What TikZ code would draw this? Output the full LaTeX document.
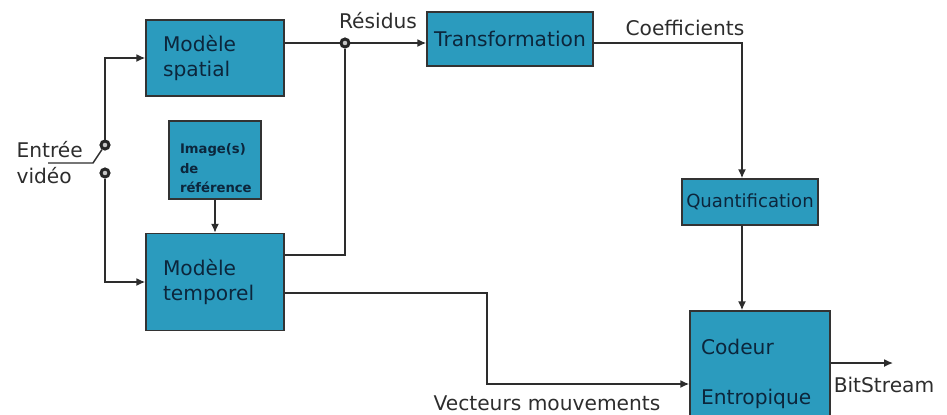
\documentclass[tikz,border=0pt]{standalone}
\usepackage{fontspec}
\setmainfont{DejaVu Sans}
\usetikzlibrary{positioning, arrows.meta}
\definecolor{bleubloc}{RGB}{43,155,190}
\definecolor{encre}{RGB}{12,38,60}
\definecolor{trait}{RGB}{45,45,45}
\newcommand{\unite}{0.02cm}

\begin{document}
\begin{tikzpicture}[
        x = \unite,
        y = -\unite,
        line width = 0.8pt,
        every node/.style = {font = \fontsize{11.5}{14.2}\selectfont, text = trait},
        bloc/.style = {rectangle, draw = black!80, fill = bleubloc, text = encre, line width = 0.9pt},
        modele/.style = {bloc, minimum width = 2.76cm, text width = 2.08cm, inner xsep = 0.34cm, align = left},
        borne/.style = {circle, draw = black!85, line width = 1.7pt, fill = gray!45, inner sep = 0pt, minimum size = 0.16cm},
        fleche/.style = {draw = trait, -{Latex[length = 5pt, width = 4.5pt]}},
        fil/.style = {draw = trait}
      ]
      \useasboundingbox (0,0) rectangle (947,414);

      \node[modele, minimum height = 1.52cm] (spatial) at (215,58) {Modèle\\spatial};
      \node[modele, minimum height = 1.94cm] (temporel) at (215,282) {Modèle\\temporel};
      \node[bloc, minimum width = 1.84cm, minimum height = 1.36cm, text width = 1.4cm, inner xsep = 0.22cm,
            text height = 15pt, align = left, font = \bfseries\fontsize{7.5}{11.2}\selectfont] (reference) at (215,160) {Image(s)\\de\\référence};
      \node[bloc, minimum width = 3.32cm, minimum height = 1.08cm, inner xsep = 0pt] (transfo) at (510,39) {Transformation};
      \node[bloc, minimum width = 2.72cm, minimum height = 0.92cm, inner xsep = 0pt,
            font = \fontsize{10.3}{12}\selectfont] (quantif) at (750,202) {Quantification};
      \node[bloc, minimum width = 2.8cm, minimum height = 2.52cm, text width = 2.36cm, align = left,
            font = \fontsize{11.5}{28}\selectfont] (codeur) at (760,374) {Codeur\\Entropique};

      \node[anchor = west, align = left, font = \fontsize{11.5}{14.8}\selectfont] (entree) at (10,163) {Entrée\\vidéo};
      \node (residus) at (378,21) {Résidus};
      \node (coeffs) at (685,28) {Coefficients};
      \node (vecteurs) at (547,403) {Vecteurs mouvements};
      \node (bitstream) at (884,385) {BitStream};

      \node[borne] (haut) at (105,145) {};
      \node[borne] (bas) at (105,173) {};
      \node[borne] (jonction) at (345,43) {};

      \coordinate (depart) at (48,163);
      \coordinate (levier) at (93,163);
      \coordinate (retour) at (345,255);
      \coordinate (coude) at (742,43);
      \coordinate (mvt1) at (487,293);
      \coordinate (mvt2) at (487,384);
      \coordinate (sortie) at (893,363);

      \draw[fil] (depart) -- (levier) -- (haut);
      \draw[fleche] (haut) |- (spatial.west);
      \draw[fleche] (bas) |- (temporel.west);
      \draw[fleche] (reference) -- (temporel);
      \draw[fil] (spatial.east |- jonction) -- (jonction);
      \draw[fleche] (jonction) -- (transfo.west |- jonction);
      \draw[fil] (temporel.east |- retour) -- (retour) -- (jonction);
      \draw[fleche] (transfo.east |- coude) -- (coude) -- (coude |- quantif.north);
      \draw[fleche] (coude |- quantif.south) -- (coude |- codeur.north);
      \draw[fleche] (temporel.east |- mvt1) -- (mvt1) -- (mvt2) -- (codeur.west |- mvt2);
      \draw[fleche] (codeur.east |- sortie) -- (sortie);
    \end{tikzpicture}
\end{document}
